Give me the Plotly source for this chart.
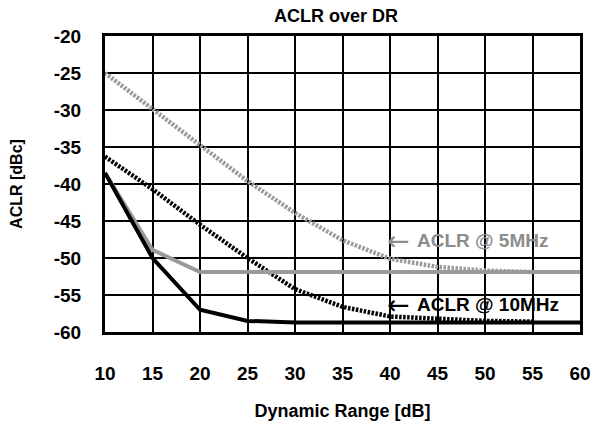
import plotly.graph_objects as go

dr = [10, 15, 20, 25, 30, 35, 40, 45, 50, 55, 60]
dr_dot = [10, 15, 20, 25, 30, 35, 40, 45, 50, 55]

aclr5_meas = [-38.5, -48.9, -51.9, -51.9, -51.9, -51.9, -51.9, -51.9, -51.9, -51.9, -51.9]
aclr10_meas = [-38.5, -50.0, -57.0, -58.5, -58.7, -58.7, -58.7, -58.7, -58.7, -58.7, -58.7]
aclr5_sim = [-25.0, -29.9, -34.7, -39.6, -43.9, -47.6, -50.1, -51.2, -51.7, -51.9]
aclr10_sim = [-36.3, -40.7, -45.5, -50.0, -54.2, -56.6, -57.9, -58.2, -58.5, -58.6]

x_ticks = [10, 15, 20, 25, 30, 35, 40, 45, 50, 55, 60]
y_ticks = [-20, -25, -30, -35, -40, -45, -50, -55, -60]

labels = ["ACLR @ 5MHz", "ACLR @ 10MHz"]
label_y = [-47.6, -56.3]
label_colors = ["#8c8c8c", "black"]

GRAY = "#9a9a9a"
FONT = "Arial, Liberation Sans, sans-serif"
DOT = "2.5px,1.5px"

fig = go.Figure()
fig.add_trace(go.Scatter(x=dr_dot, y=aclr5_sim, mode="lines",
                         line=dict(color=GRAY, width=4.5, dash=DOT)))
fig.add_trace(go.Scatter(x=dr_dot, y=aclr10_sim, mode="lines",
                         line=dict(color="black", width=4.5, dash=DOT)))
fig.add_trace(go.Scatter(x=dr, y=aclr5_meas, mode="lines",
                         line=dict(color=GRAY, width=4)))
fig.add_trace(go.Scatter(x=dr, y=aclr10_meas, mode="lines",
                         line=dict(color="black", width=4)))

for lab, ly, lc in zip(labels, label_y, label_colors):
    fig.add_annotation(x=40.9, y=ly, xanchor="center", yanchor="middle", showarrow=False,
                       text="←", font=dict(family="DejaVu Sans", size=27, color=lc))
    fig.add_annotation(x=42.6, y=ly, xanchor="left", yanchor="middle", showarrow=False,
                       text="<b>" + lab + "</b>", font=dict(family=FONT, size=19, color=lc))

fig.update_layout(
    width=592, height=426,
    margin=dict(l=105, r=12, t=36, b=94, autoexpand=False),
    paper_bgcolor="white", plot_bgcolor="white",
    showlegend=False,
    font=dict(family=FONT, color="black"),
    title=dict(text="ACLR over DR", x=336 / 592, xanchor="center",
               y=1 - 16 / 426, yanchor="middle",
               font=dict(family=FONT, size=18, weight="bold", color="black")),
    xaxis=dict(range=[10, 60], tickvals=x_ticks, ticktext=[str(v) for v in x_ticks],
               showgrid=True, gridcolor="black", gridwidth=2,
               showline=True, linecolor="black", linewidth=3, mirror=True,
               zeroline=False, ticks="", ticklabelstandoff=22, automargin=False,
               tickfont=dict(family=FONT, size=19, weight="bold"),
               title=dict(text="Dynamic Range [dB]", standoff=22,
                          font=dict(family=FONT, size=18, weight="bold"))),
    yaxis=dict(range=[-60, -20], tickvals=y_ticks, ticktext=[str(v) for v in y_ticks],
               showgrid=True, gridcolor="black", gridwidth=2,
               showline=True, linecolor="black", linewidth=3, mirror=True,
               zeroline=False, ticks="", ticklabelstandoff=17, automargin=False,
               tickfont=dict(family=FONT, size=19, weight="bold"),
               title=dict(text="ACLR [dBc]", standoff=28,
                          font=dict(family=FONT, size=16, weight="bold"))),
)

fig.write_html("out.html")
